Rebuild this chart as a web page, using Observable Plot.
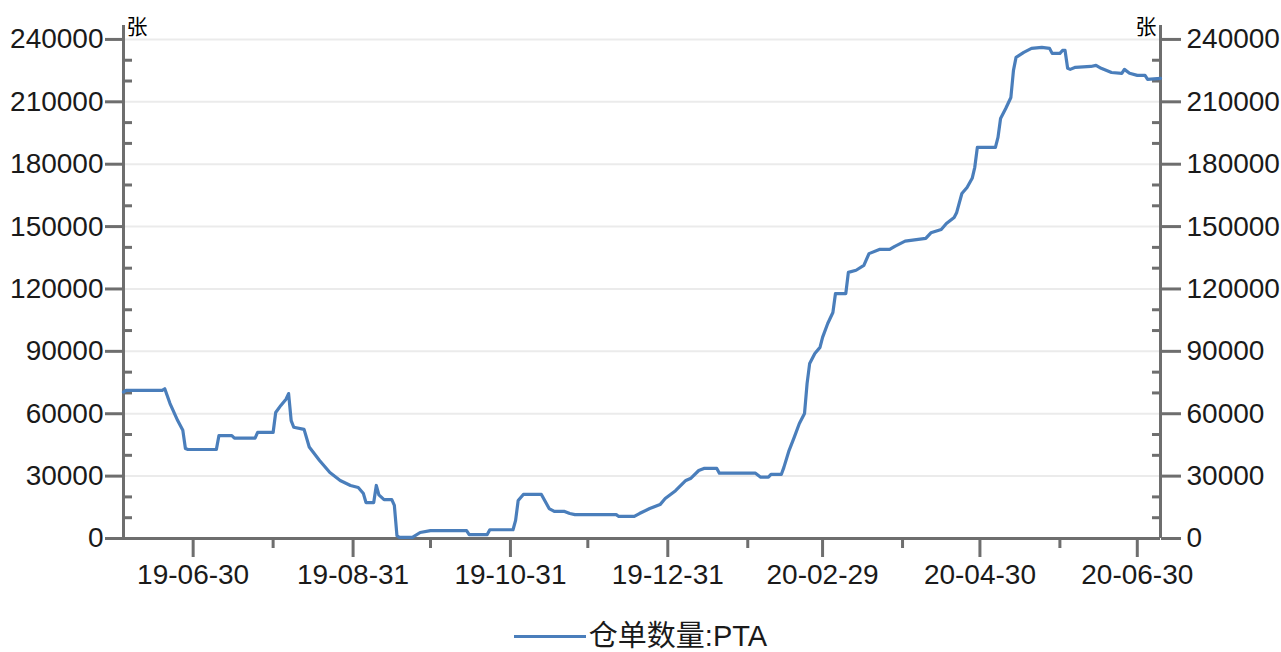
<!DOCTYPE html>
<html><head><meta charset="utf-8">
<script src="https://cdn.jsdelivr.net/npm/d3@7"></script>
<script src="https://cdn.jsdelivr.net/npm/@observablehq/plot@0.6"></script>
<style>
body{margin:0;background:#fff;overflow:hidden;}
#wrap{position:relative;width:1281px;height:652px;}
#legend{position:absolute;left:0;top:616px;width:1281px;height:40px;display:flex;justify-content:center;align-items:center;font-family:"Liberation Sans","Noto Sans CJK SC",sans-serif;font-size:29px;line-height:1;color:#1a1a1a;}
#legend .sw{width:72px;height:3px;background:#4a7ebb;margin-right:3px;}
#legend .tx{line-height:1;display:inline-block;}
</style></head><body><div id="wrap"><div id="chart"></div><div id="legend"></div></div>
<script>
const seriesName = "仓单数量:PTA";
const unitLabel = "张";
const dates = [
"2019-06-03","2019-06-04","2019-06-18","2019-06-19","2019-06-21","2019-06-24","2019-06-26","2019-06-27","2019-06-28","2019-07-09",
"2019-07-10","2019-07-15","2019-07-16","2019-07-24","2019-07-25","2019-07-31","2019-08-01","2019-08-03","2019-08-05","2019-08-06",
"2019-08-07","2019-08-08","2019-08-12","2019-08-14","2019-08-18","2019-08-22","2019-08-26","2019-08-30","2019-09-02","2019-09-04",
"2019-09-05","2019-09-08","2019-09-09","2019-09-10","2019-09-12","2019-09-15","2019-09-16","2019-09-17","2019-09-18","2019-09-23",
"2019-09-26","2019-09-30","2019-10-14","2019-10-15","2019-10-22","2019-10-23","2019-11-01","2019-11-02","2019-11-03","2019-11-05",
"2019-11-12","2019-11-15","2019-11-17","2019-11-21","2019-11-23","2019-11-25","2019-12-11","2019-12-12","2019-12-18","2019-12-20",
"2019-12-24","2019-12-28","2019-12-30","2020-01-03","2020-01-07","2020-01-09","2020-01-12","2020-01-14","2020-01-19","2020-01-20",
"2020-02-03","2020-02-05","2020-02-08","2020-02-09","2020-02-13","2020-02-14","2020-02-16","2020-02-18","2020-02-20","2020-02-22",
"2020-02-23","2020-02-24","2020-02-26","2020-02-28","2020-02-29","2020-03-02","2020-03-04","2020-03-05","2020-03-09","2020-03-10",
"2020-03-13","2020-03-16","2020-03-18","2020-03-22","2020-03-26","2020-03-28","2020-04-01","2020-04-09","2020-04-11","2020-04-15",
"2020-04-17","2020-04-20","2020-04-21","2020-04-23","2020-04-25","2020-04-27","2020-04-28","2020-04-29","2020-05-06","2020-05-07",
"2020-05-08","2020-05-10","2020-05-12","2020-05-13","2020-05-14","2020-05-17","2020-05-20","2020-05-24","2020-05-27","2020-05-28",
"2020-05-31","2020-06-01","2020-06-02","2020-06-03","2020-06-04","2020-06-06","2020-06-12","2020-06-14","2020-06-16","2020-06-20",
"2020-06-24","2020-06-25","2020-06-27","2020-06-30","2020-07-03","2020-07-04","2020-07-09"];
const values = [
70400,71200,71200,72000,65000,56700,52000,43300,42800,42800,
49500,49500,48300,48300,51000,51000,60600,64000,67000,69700,
56700,53500,52500,44000,37500,31700,27900,25500,24500,21600,
17300,17300,25500,21000,18700,18700,15900,1400,500,500,
2900,3800,3800,1900,1900,4200,4200,8700,18300,21200,
21200,14400,13000,13000,12000,11500,11500,10600,10600,12000,
14400,16300,19200,23000,27900,29000,32700,33700,33700,31400,
31400,29500,29500,30800,30800,34200,42300,48600,55300,60100,
74600,84200,89000,91900,96700,103400,108700,117800,117800,128000,
129000,131300,137000,139000,139000,140500,143000,144300,147000,148600,
151500,154400,156800,165900,168800,173200,178500,188100,188100,192900,
202000,206800,212100,225100,231400,233800,235700,236200,235700,233300,
233300,234700,234700,226100,225600,226600,227000,227500,226100,224100,
223700,225600,223700,222700,222700,220800,221300];
const yMajorTicks = [0,30000,60000,90000,120000,150000,180000,210000,240000];
const yMinorTicks = [10000,20000,40000,50000,70000,80000,100000,110000,130000,140000,160000,170000,190000,200000,220000,230000];
const xMajorTicks = ["2019-06-30","2019-08-31","2019-10-31","2019-12-31","2020-02-29","2020-04-30","2020-06-30"];
const xMinorTicks = ["2019-07-31","2019-09-30","2019-11-30","2020-01-31","2020-03-31","2020-05-31"];
const xDomain = ["2019-06-03","2020-07-09"];
const yDomain = [0, 246700];

const parse = d3.utcParse("%Y-%m-%d");
const data = dates.map((d,i)=>({date:parse(d), value:values[i]}));
const AX = "#6e6e6e", TXT = "#1a1a1a", LINE = "#4a7ebb";
const xd = xDomain.map(parse);

const chart = Plot.plot({
  width:1281, height:604,
  marginLeft:123, marginRight:121, marginTop:25, marginBottom:66,
  style:{fontFamily:"Liberation Sans, sans-serif", fontSize:"28px", background:"#fff", color:TXT},
  x:{type:"utc", domain:xd, axis:null},
  y:{domain:yDomain, axis:null},
  marks:[
    Plot.ruleY(yMajorTicks.filter(v=>v>0), {stroke:"#ebebeb", strokeWidth:2}),
    Plot.axisY(yMinorTicks, {anchor:"left", label:null, tickSize:9, dx:9, tickFormat:()=>"", stroke:AX, strokeWidth:3}),
    Plot.axisY(yMinorTicks, {anchor:"right", label:null, tickSize:9, dx:-9, tickFormat:()=>"", stroke:AX, strokeWidth:3}),
    Plot.axisY(yMajorTicks, {anchor:"left", label:null, tickSize:18, tickPadding:2, stroke:AX, fill:TXT, strokeWidth:3, fontSize:28, tickFormat:d=>String(d)}),
    Plot.axisY(yMajorTicks, {anchor:"right", label:null, tickSize:20, tickPadding:6, stroke:AX, fill:TXT, strokeWidth:3, fontSize:28, tickFormat:d=>String(d)}),
    Plot.axisX(xMinorTicks.map(parse), {anchor:"bottom", label:null, tickSize:10, tickFormat:()=>"", stroke:AX, strokeWidth:3}),
    Plot.axisX(xMajorTicks.map(parse), {anchor:"bottom", label:null, tickSize:19, tickPadding:7, stroke:AX, fill:TXT, strokeWidth:3, fontSize:28, tickFormat:d3.utcFormat("%y-%m-%d")}),
    Plot.ruleX(xd, {stroke:AX, strokeWidth:3}),
    Plot.ruleY([0], {stroke:AX, strokeWidth:3}),
    Plot.line(data, {x:"date", y:"value", stroke:LINE, strokeWidth:3.2, strokeLinejoin:"round"}),
    Plot.text([unitLabel], {text:d=>d, frameAnchor:"top-left", dx:3, dy:2, textAnchor:"start", lineAnchor:"middle", fontSize:21, fontFamily:"Noto Sans CJK SC", fill:"#000"}),
    Plot.text([unitLabel], {text:d=>d, frameAnchor:"top-right", dx:-4, dy:2, textAnchor:"end", lineAnchor:"middle", fontSize:21, fontFamily:"Noto Sans CJK SC", fill:"#000"})
  ]
});
document.getElementById("chart").appendChild(chart);
const lg = document.getElementById("legend");
const sw = document.createElement("span"); sw.className="sw"; lg.appendChild(sw);
const t = document.createElement("span"); t.className="tx"; t.textContent = seriesName; lg.appendChild(t);
</script></body></html>
